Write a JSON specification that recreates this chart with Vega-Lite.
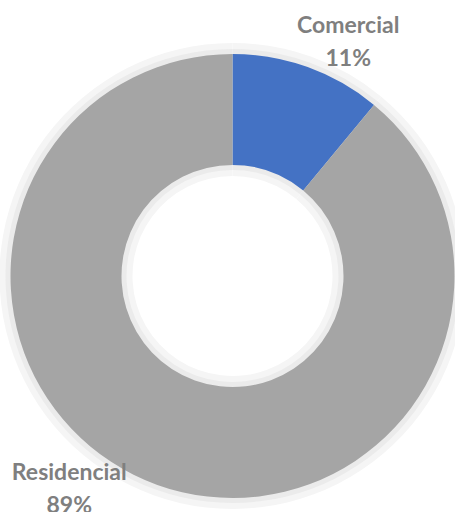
{
  "$schema": "https://vega.github.io/schema/vega-lite/v6.json",
  "width": 445,
  "height": 472,
  "autosize": {"type": "none"},
  "padding": {"left": 10, "top": 40, "right": 0, "bottom": 0},
  "background": "white",
  "data": {"values": [
    {"sector": "Comercial", "value": 11, "label": "Comercial\n11%"},
    {"sector": "Residencial", "value": 89, "label": "Residencial\n89%"}
  ]},
  "encoding": {
    "theta": {"field": "value", "type": "quantitative", "stack": true},
    "order": {"field": "sector", "type": "nominal"}
  },
  "layer": [
    {
      "mark": {"type": "arc", "outerRadius": 233, "innerRadius": 100, "color": "#f5f5f5"},
      "encoding": {}
    },
    {
      "mark": {"type": "arc", "outerRadius": 227, "innerRadius": 106, "color": "#ebebeb"},
      "encoding": {}
    },
    {
      "mark": {"type": "arc", "outerRadius": 222, "innerRadius": 111},
      "encoding": {
        "color": {"field": "sector", "type": "nominal", "scale": {"domain": ["Comercial", "Residencial"], "range": ["#4472C4", "#A5A5A5"]}, "legend": null}
      }
    },
    {
      "transform": [{"filter": "datum.sector === 'Comercial'"}],
      "mark": {"type": "text", "radius": 265, "lineBreak": "\n", "font": "Lato", "fontWeight": "bold", "fontSize": 23, "lineHeight": 33, "color": "#7F7F7F", "align": "center", "baseline": "middle", "dx": 26, "dy": -1},
      "encoding": {"text": {"field": "label"}}
    },
    {
      "transform": [{"filter": "datum.sector === 'Residencial'"}],
      "mark": {"type": "text", "radius": 265, "lineBreak": "\n", "font": "Lato", "fontWeight": "bold", "fontSize": 23, "lineHeight": 33, "color": "#7F7F7F", "align": "center", "baseline": "middle", "dx": -253, "dy": -52},
      "encoding": {"text": {"field": "label"}}
    }
  ]
}
